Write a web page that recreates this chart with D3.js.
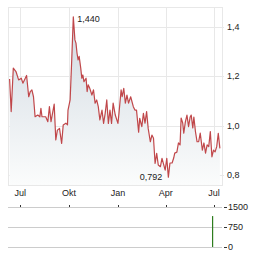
<!DOCTYPE html>
<html lang="de">
<head>
  <title>Kursverlauf</title>
  <script src="https://d3js.org/d3.v7.min.js" charset="utf-8"></script>
  <style>
    body {
      margin: 0;
      background: #fff;
      font-family: "Liberation Sans", Arial, sans-serif;
    }
    .lbl {
      font-size: 9px;
      fill: #222;
    }
  </style>
</head>
<body>
<script>
  // price series
  var dates = ["2022-06-11","2022-06-14","2022-06-18","2022-06-23","2022-06-28","2022-07-03","2022-07-06","2022-07-09","2022-07-13","2022-07-17",
    "2022-07-20","2022-07-23","2022-07-26","2022-07-29","2022-08-03","2022-08-07","2022-08-09","2022-08-11","2022-08-18","2022-08-22",
    "2022-08-25","2022-08-28","2022-09-03","2022-09-06","2022-09-09","2022-09-13","2022-09-17","2022-09-20","2022-09-25","2022-09-28",
    "2022-09-29","2022-10-03","2022-10-06","2022-10-09","2022-10-12","2022-10-14","2022-10-16","2022-10-18","2022-10-20","2022-10-23",
    "2022-10-25","2022-10-27","2022-10-29","2022-11-02","2022-11-04","2022-11-06","2022-11-09","2022-11-13","2022-11-16","2022-11-19",
    "2022-11-22","2022-11-25","2022-11-28","2022-12-02","2022-12-05","2022-12-08","2022-12-11","2022-12-14","2022-12-17","2022-12-20",
    "2022-12-23","2022-12-27","2023-01-01","2023-01-03","2023-01-07","2023-01-09","2023-01-12","2023-01-15","2023-01-18","2023-01-21",
    "2023-01-25","2023-01-30","2023-02-02","2023-02-05","2023-02-09","2023-02-11","2023-02-15","2023-02-18","2023-02-21","2023-02-24",
    "2023-02-27","2023-03-03","2023-03-06","2023-03-09","2023-03-12","2023-03-15","2023-03-18","2023-03-22","2023-03-25","2023-03-31",
    "2023-04-03","2023-04-06","2023-04-09","2023-04-13","2023-04-16","2023-04-18","2023-04-22","2023-04-25","2023-04-28","2023-04-30",
    "2023-05-03","2023-05-05","2023-05-08","2023-05-11","2023-05-14","2023-05-17","2023-05-19","2023-05-22","2023-05-24","2023-05-27",
    "2023-05-30","2023-06-02","2023-06-05","2023-06-09","2023-06-12","2023-06-15","2023-06-18","2023-06-21","2023-06-24","2023-06-27",
    "2023-06-30","2023-07-03","2023-07-06","2023-07-09","2023-07-12"];
  var prices = [1.189,1.057,1.233,1.219,1.185,1.192,1.172,1.185,1.203,1.117,
    1.138,1.145,1.117,1.036,1.043,1.036,1.070,1.036,1.036,1.016,
    1.077,1.016,1.087,0.942,0.982,0.989,0.928,1.003,1.010,1.003,
    1.063,1.104,1.266,1.440,1.347,1.334,1.293,1.266,1.280,1.233,
    1.192,1.205,1.178,1.192,1.138,1.165,1.151,1.124,1.145,1.091,
    1.104,1.077,1.023,1.063,1.009,1.050,1.104,1.009,1.063,1.009,
    1.091,1.043,1.009,1.050,1.145,1.117,1.151,1.091,1.124,1.091,
    1.117,1.077,1.063,1.063,0.974,1.030,0.996,1.050,1.010,1.057,
    0.989,0.935,0.962,0.949,0.847,0.888,0.841,0.834,0.868,0.820,
    0.868,0.792,0.849,0.849,0.869,0.889,0.893,0.930,0.922,1.031,
    1.011,0.970,1.015,1.043,0.996,1.035,1.043,0.991,1.035,0.976,
    0.935,0.935,0.970,0.901,0.930,0.889,0.922,0.915,0.976,0.874,
    0.901,0.894,0.915,0.969,0.908];

  // volume (only one visible bar)
  var volDates = ["2023-06-27"];
  var volumes = [1160];

  var monthTicks = ["2022-07-01","2022-10-01","2023-01-01","2023-04-01","2023-07-01"];
  var monthLabels = ["Jul","Okt","Jan","Apr","Jul"];
  var priceTicks = [0.8, 1.0, 1.2, 1.4];
  var volTicks = [0, 750, 1500];

  var width = 264, height = 255;
  var parse = d3.timeParse("%Y-%m-%d");
  var fmt = function(v, n) { return v.toFixed(n).replace(".", ","); };

  var data = dates.map(function(d, i) { return { date: parse(d), value: prices[i] }; });

  var svg = d3.select("body").append("svg")
    .attr("width", width)
    .attr("height", height);

  // plot box
  var pLeft = 8, pRight = 222, pTop = 7, pBottom = 185;

  var x = d3.scaleTime()
    .domain([parse("2022-06-08"), parse("2023-07-16")])
    .range([pLeft, pRight]);
  var y = d3.scaleLinear()
    .domain([0.76, 1.48])
    .range([pBottom, pTop]);

  // gradient for the area
  var grad = svg.append("defs").append("linearGradient")
    .attr("id", "fade")
    .attr("gradientUnits", "userSpaceOnUse")
    .attr("x1", 0).attr("y1", pTop).attr("x2", 0).attr("y2", pBottom);
  grad.append("stop").attr("offset", "0%").attr("stop-color", "#cfd8e0");
  grad.append("stop").attr("offset", "100%").attr("stop-color", "#fbfcfc");

  // grid
  var g = svg.append("g");
  g.selectAll(".vgrid")
    .data(monthTicks)
    .enter().append("line")
    .attr("x1", function(d) { return Math.round(x(parse(d))) + 0.5; })
    .attr("x2", function(d) { return Math.round(x(parse(d))) + 0.5; })
    .attr("y1", pTop).attr("y2", pBottom)
    .attr("stroke", "#e8e8e8");
  g.selectAll(".hgrid")
    .data(priceTicks)
    .enter().append("line")
    .attr("x1", pLeft).attr("x2", pRight + 2)
    .attr("y1", function(d) { return Math.round(y(d)) + 0.5; })
    .attr("y2", function(d) { return Math.round(y(d)) + 0.5; })
    .attr("stroke", "#e8e8e8");

  // area + line
  var area = d3.area()
    .x(function(d) { return x(d.date); })
    .y0(pBottom)
    .y1(function(d) { return y(d.value); });
  var line = d3.line()
    .x(function(d) { return x(d.date); })
    .y(function(d) { return y(d.value); });

  g.append("path").datum(data).attr("d", area).attr("fill", "url(#fade)");
  g.append("path").datum(data).attr("d", line)
    .attr("fill", "none")
    .attr("stroke", "#c0474a")
    .attr("stroke-width", 1.2)
    .attr("stroke-linejoin", "round");

  // frame
  g.append("rect")
    .attr("x", pLeft + 0.5).attr("y", pTop + 0.5)
    .attr("width", pRight - pLeft).attr("height", pBottom - pTop)
    .attr("fill", "none")
    .attr("stroke", "#e8e8e8");

  // max / min labels
  var maxD = data[d3.maxIndex(data, function(d) { return d.value; })];
  var minD = data[d3.minIndex(data, function(d) { return d.value; })];
  svg.append("text").attr("class", "lbl")
    .attr("x", x(maxD.date) + 4).attr("y", y(maxD.value) + 5)
    .text(fmt(maxD.value, 3));
  svg.append("text").attr("class", "lbl")
    .attr("text-anchor", "end")
    .attr("x", x(minD.date) - 6).attr("y", y(minD.value) + 3)
    .text(fmt(minD.value, 3));

  // y labels
  svg.selectAll(".ylab")
    .data(priceTicks)
    .enter().append("text").attr("class", "lbl")
    .attr("x", 227)
    .attr("y", function(d) { return y(d) + 3; })
    .text(function(d) { return fmt(d, 1); });

  // x labels
  svg.selectAll(".xlab")
    .data(monthTicks)
    .enter().append("text").attr("class", "lbl")
    .attr("text-anchor", "middle")
    .attr("x", function(d) { return x(parse(d)); })
    .attr("y", 196)
    .text(function(d, i) { return monthLabels[i]; });

  // volume panel
  var yv = d3.scaleLinear().domain([0, 1500]).range([247, 207]);
  var v = svg.append("g");
  v.selectAll(".vline")
    .data(volTicks)
    .enter().append("line")
    .attr("x1", pLeft).attr("x2", pRight)
    .attr("y1", function(d) { return Math.round(yv(d)) + 0.5; })
    .attr("y2", function(d) { return Math.round(yv(d)) + 0.5; })
    .attr("stroke", "#cccccc");
  v.selectAll(".vtick")
    .data(volTicks)
    .enter().append("line")
    .attr("x1", 224).attr("x2", 227)
    .attr("y1", function(d) { return Math.round(yv(d)) + 0.5; })
    .attr("y2", function(d) { return Math.round(yv(d)) + 0.5; })
    .attr("stroke", "#333");
  v.selectAll(".xtick")
    .data(monthTicks)
    .enter().append("line")
    .attr("x1", function(d) { return Math.round(x(parse(d))) + 0.5; })
    .attr("x2", function(d) { return Math.round(x(parse(d))) + 0.5; })
    .attr("y1", 205).attr("y2", 207)
    .attr("stroke", "#333");
  v.selectAll(".vlab")
    .data(volTicks)
    .enter().append("text").attr("class", "lbl")
    .attr("x", 228)
    .attr("y", function(d) { return yv(d) + 3; })
    .text(function(d) { return d; });
  v.selectAll(".bar")
    .data(volumes)
    .enter().append("rect")
    .attr("x", function(d, i) { return Math.round(x(parse(volDates[i]))); })
    .attr("width", 1.2)
    .attr("y", function(d) { return yv(d); })
    .attr("height", function(d) { return yv(0) - yv(d); })
    .attr("fill", "#2e7d1e");
</script>
</body>
</html>
